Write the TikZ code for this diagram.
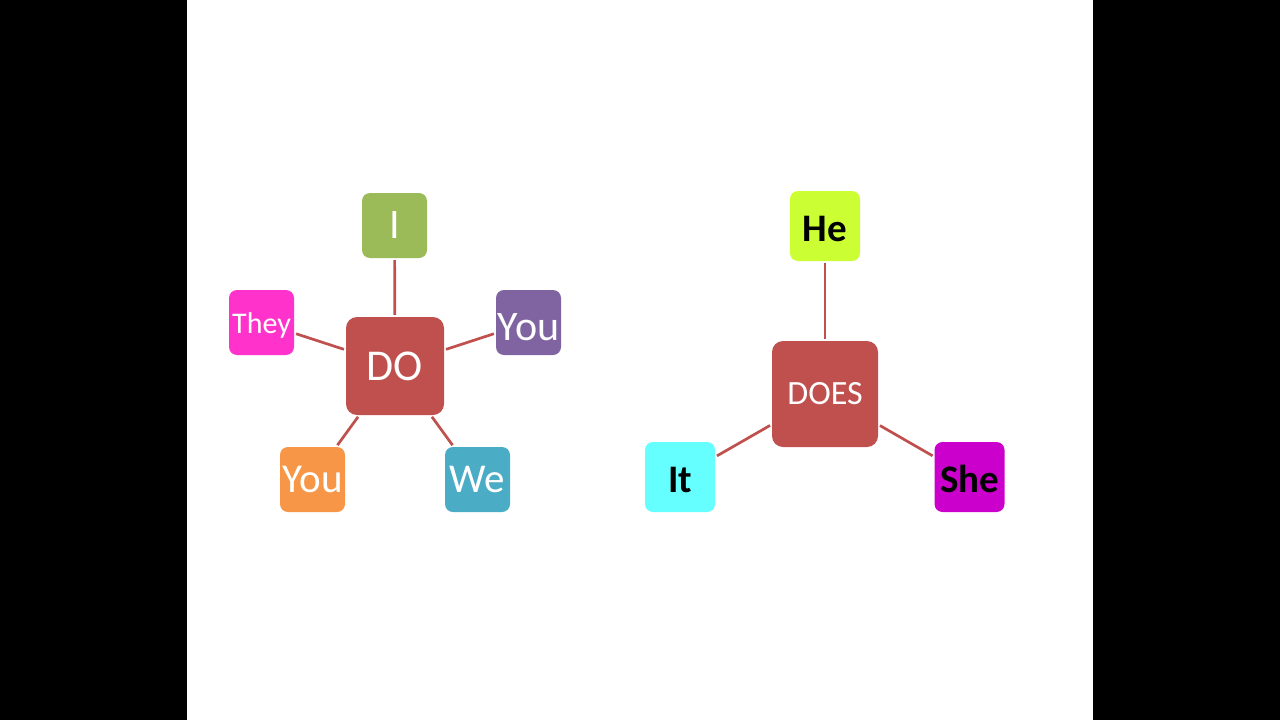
\documentclass[tikz,border=0pt]{standalone}
\usepackage{fontspec}
\setmainfont{Carlito}
\definecolor{hubred}{HTML}{C0504D}
\definecolor{cgreen}{HTML}{9BBB59}
\definecolor{cpink}{HTML}{FF33CC}
\definecolor{cpurple}{HTML}{8064A2}
\definecolor{corange}{HTML}{F79646}
\definecolor{cblue}{HTML}{4BACC6}
\definecolor{clime}{HTML}{CCFF33}
\definecolor{ccyan}{HTML}{66FFFF}
\definecolor{cmagenta}{HTML}{CC00CC}
\tikzset{
  sat/.style={rounded corners=8pt, minimum width=65pt, minimum height=65pt, inner sep=0pt, text=white},
  satb/.style={rounded corners=8pt, minimum width=70pt, minimum height=70pt, inner sep=0pt, text=black,
    font=\fontsize{39}{39}\selectfont\bfseries, text height=31pt, text depth=0pt},
  hub/.style={rounded corners=11pt, fill=hubred, inner sep=0pt, text=white},
  link/.style={draw=hubred, line width=2.7pt, shorten <=2pt, shorten >=2pt}
}
\begin{document}
\begin{tikzpicture}[x=1pt,y=-1pt]
\useasboundingbox (0,0) rectangle (1280,720);
\fill[black] (0,0) rectangle (187,720);
\fill[black] (1093,0) rectangle (1280,720);
% left diagram
\node[hub, minimum width=98pt, minimum height=98pt, font=\fontsize{44}{44}\selectfont] (do) at (395,366) {DO};
\node[sat, fill=cgreen, font=\fontsize{42}{42}\selectfont] (i) at (394.5,225.5) {I};
\node[sat, fill=cpink, font=\fontsize{30}{30}\selectfont, text height=26pt, text depth=5pt] (they) at (261.5,322.5) {They};
\node[sat, fill=cpurple, font=\fontsize{42}{42}\selectfont, text height=35pt, text depth=0pt] (you1) at (528.5,322.5) {You};
\node[sat, fill=corange, font=\fontsize{41}{41}\selectfont] (you2) at (312.5,479.5) {You};
\node[sat, fill=cblue, font=\fontsize{41}{41}\selectfont] (we) at (477.5,479.5) {We};
\draw[link] (do) -- (i);
\draw[link] (do) -- (they);
\draw[link] (do) -- (you1);
\draw[link] (do) -- (you2);
\draw[link] (do) -- (we);
% right diagram
\node[hub, minimum width=106pt, minimum height=106pt, font=\fontsize{34}{34}\selectfont] (does) at (825,394) {DOES};
\node[satb, fill=clime] (he) at (825,226) {He};
\node[satb, fill=ccyan] (it) at (680,477) {It};
\node[satb, fill=cmagenta] (she) at (969.5,477) {She};
\draw[link] (does) -- (he);
\draw[link] (does) -- (it);
\draw[link] (does) -- (she);
\end{tikzpicture}
\end{document}
